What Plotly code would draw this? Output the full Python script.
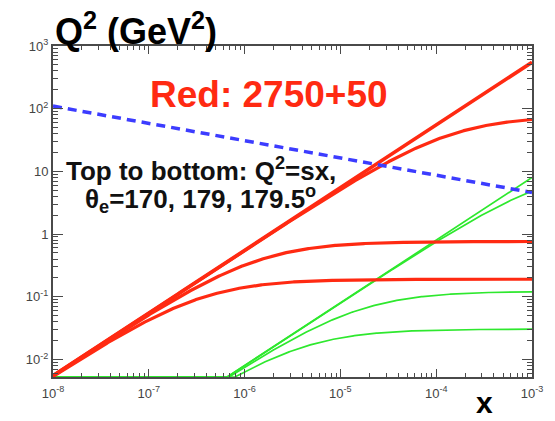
import numpy as np
import plotly.graph_objects as go

# Beam energies (GeV): electron, proton/nucleon
red_beams = [50.0, 2750.0]
green_beams = [20.0, 100.0]
# Electron scattering angles (degrees) for the fixed-angle curves
theta_e = [170.0, 179.0, 179.5]

# Saturation-scale line: end points (x, Q^2)
sat_x = [1e-8, 1e-3]
sat_q2 = [110.0, 4.6]

# Axis tick labels
x_ticks = [1e-8, 1e-7, 1e-6, 1e-5, 1e-4, 1e-3]
x_ticktext = ["10<sup>-8</sup>", "10<sup>-7</sup>", "10<sup>-6</sup>",
              "10<sup>-5</sup>", "10<sup>-4</sup>", "10<sup>-3</sup>"]
y_ticks = [1e-2, 1e-1, 1, 10, 1e2, 1e3]
y_ticktext = ["10<sup>-2</sup>", "10<sup>-1</sup>", "1", "10",
              "10<sup>2</sup>", "10<sup>3</sup>"]

Y_LOG_RANGE = [-2.28, 3.0]
X_LOG_RANGE = [-8.0, -3.0]
y_floor = 10 ** Y_LOG_RANGE[0]

x = np.logspace(X_LOG_RANGE[0], X_LOG_RANGE[1], 500)


def kinematic_curves(ee, ep):
    """Q^2 = s x (y=1) and Q^2 at fixed electron angle."""
    s = 4.0 * ee * ep
    sx = s * x
    curves = [sx]
    for th in theta_e:
        half = np.radians(th) / 2.0
        k = 4.0 * ee ** 2 / np.tan(half) ** 2
        curves.append(sx * k / (k + sx))
    # values below the frame are drawn along its lower edge
    return [np.maximum(c, y_floor) for c in curves]


RED = "#ff2a12"
GREEN = "#2ee82e"
BLUE = "#3c3cff"

fig = go.Figure()

for i, q2 in enumerate(kinematic_curves(*green_beams)):
    fig.add_trace(go.Scatter(x=x, y=q2, mode="lines",
                             line=dict(color=GREEN, width=1.7),
                             showlegend=False, hoverinfo="skip"))

for i, q2 in enumerate(kinematic_curves(*red_beams)):
    fig.add_trace(go.Scatter(x=x, y=q2, mode="lines",
                             line=dict(color=RED, width=3.6 if i == 0 else 3.2),
                             showlegend=False, hoverinfo="skip"))

fig.add_trace(go.Scatter(x=sat_x, y=sat_q2, mode="lines",
                         line=dict(color=BLUE, width=3.5, dash="9px,6px"),
                         showlegend=False, hoverinfo="skip"))


def minor_vals(lo, hi):
    vals = []
    for d in range(lo, hi):
        vals += [m * 10 ** d for m in range(2, 10)]
    return vals


FONT = "Liberation Sans, Arial, Helvetica, sans-serif"
AX_COLOR = "#4a4a4a"
TICK_FONT = dict(family=FONT, size=13, color="#444444")

fig.update_xaxes(type="log", range=X_LOG_RANGE, showgrid=False, zeroline=False,
                 showline=True, linecolor=AX_COLOR, linewidth=2, mirror="allticks",
                 ticks="inside", ticklen=8, tickcolor=AX_COLOR, tickwidth=1,
                 tickmode="array", tickvals=x_ticks, ticktext=x_ticktext,
                 tickfont=TICK_FONT, ticklabelstandoff=3,
                 minor=dict(ticks="inside", ticklen=4, tickcolor=AX_COLOR,
                            tickvals=minor_vals(-8, -3), showgrid=False))

fig.update_yaxes(type="log", range=Y_LOG_RANGE, showgrid=False, zeroline=False,
                 showline=True, linecolor=AX_COLOR, linewidth=2, mirror="allticks",
                 ticks="inside", ticklen=10, tickcolor=AX_COLOR, tickwidth=1,
                 tickmode="array", tickvals=y_ticks, ticktext=y_ticktext,
                 tickfont=TICK_FONT,
                 minor=dict(ticks="inside", ticklen=5, tickcolor=AX_COLOR,
                            tickvals=minor_vals(-3, 3), showgrid=False))

annotations = [
    dict(text="<b>Q<sup>2</sup> (GeV<sup>2</sup>)</b>", x=0.0, y=1.0,
         xref="paper", yref="paper", xanchor="left", yanchor="bottom",
         yshift=-8, font=dict(family=FONT, size=36, color="black")),
    dict(text="<b>Red: 2750+50</b>", x=0.4506, y=0.852, xref="paper",
         yref="paper", xanchor="center", yanchor="middle",
         font=dict(family=FONT, size=37, color=RED)),
    dict(text="<b>Top to bottom: Q<sup>2</sup>=sx,</b>", x=0.3086, y=0.628,
         xref="paper", yref="paper", xanchor="center", yanchor="middle",
         font=dict(family=FONT, size=26, color="#111111")),
    dict(text="<b>θ<sub>e</sub>=170, 179, 179.5<sup>o</sup></b>", x=0.3086,
         y=0.538, xref="paper", yref="paper", xanchor="center",
         yanchor="middle", font=dict(family=FONT, size=26, color="#111111")),
    dict(text="<b>x</b>", x=0.9, y=-0.133, xref="paper", yref="paper",
         xanchor="center", yanchor="bottom",
         font=dict(family=FONT, size=30, color="black")),
]
for a in annotations:
    a["showarrow"] = False

fig.update_layout(width=555, height=421,
                  margin=dict(l=53, r=16, t=46, b=44),
                  paper_bgcolor="white", plot_bgcolor="white",
                  annotations=annotations, showlegend=False)

fig.write_html("out.html")
